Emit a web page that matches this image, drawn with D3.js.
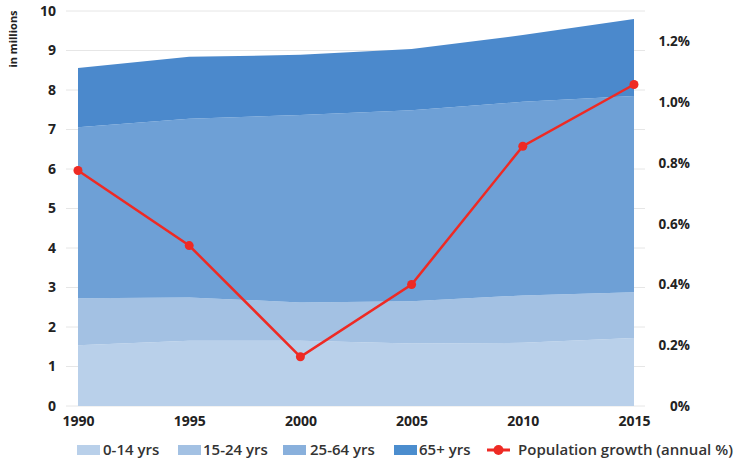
<!DOCTYPE html>
<html>
<head>
<meta charset="utf-8">
<script src="https://cdn.jsdelivr.net/npm/d3@7"></script>
<style>
  body { margin: 0; background: #fff; }
  svg { font-family: "Open Sans", "Noto Sans", sans-serif; }
</style>
</head>
<body>
<svg id="chart" width="734" height="460"></svg>
<script>
// Population by age group (millions) and annual growth (%)
const years = [1990, 1995, 2000, 2005, 2010, 2015];
const age0_14 = [1.54, 1.65, 1.65, 1.58, 1.60, 1.72];
const age15_24 = [1.19, 1.10, 0.97, 1.07, 1.20, 1.16];
const age25_64 = [4.33, 4.52, 4.75, 4.84, 4.90, 4.97];
const age65 = [1.50, 1.57, 1.52, 1.55, 1.69, 1.95];
const growth = [0.775, 0.528, 0.162, 0.40, 0.855, 1.058];
const groupNames = ["0-14 yrs", "15-24 yrs", "25-64 yrs", "65+ yrs"];
const leftTicks = [0, 1, 2, 3, 4, 5, 6, 7, 8, 9, 10];
const rightTicks = [0, 0.2, 0.4, 0.6, 0.8, 1.0, 1.2];

const areaColors = ["#b9d0ea", "#a3c1e3", "#6ea0d6", "#4b89cc"];
const swatchColors = ["#b9d0ea", "#a3c1e3", "#89b0dc", "#4b8dce"];
const red = "#ee2a24";

const svg = d3.select("#chart");
const plotTop = 11, plotBottom = 406;

const x = d3.scaleLinear().domain([1990, 2015]).range([78, 634]);
const y = d3.scaleLinear().domain([0, 10]).range([plotBottom, plotTop]);
const y2 = d3.scaleLinear().domain([0, 1.3]).range([plotBottom, plotTop]);

// gridlines
svg.append("g")
  .selectAll("line")
  .data(leftTicks)
  .join("line")
  .attr("x1", 66).attr("x2", 645)
  .attr("y1", d => y(d)).attr("y2", d => y(d))
  .attr("stroke", "#e6e6e6")
  .attr("stroke-width", 1);

// stacked areas
const rows = years.map((yr, i) => ({
  year: yr, a: age0_14[i], b: age15_24[i], c: age25_64[i], d: age65[i]
}));
const stack = d3.stack().keys(["a", "b", "c", "d"]);
const series = stack(rows);
const area = d3.area()
  .x(d => x(d.data.year))
  .y0(d => y(d[0]))
  .y1(d => y(d[1]));

svg.append("g")
  .selectAll("path")
  .data(series)
  .join("path")
  .attr("d", area)
  .attr("fill", (d, i) => areaColors[i]);

// growth line
const pts = years.map((yr, i) => ({ year: yr, v: growth[i] }));
svg.append("path")
  .datum(pts)
  .attr("fill", "none")
  .attr("stroke", red)
  .attr("stroke-width", 2.5)
  .attr("d", d3.line().x(d => x(d.year)).y(d => y2(d.v)));

svg.append("g")
  .selectAll("circle")
  .data(pts)
  .join("circle")
  .attr("cx", d => x(d.year))
  .attr("cy", d => y2(d.v))
  .attr("r", 4.5)
  .attr("fill", red);

// left axis
const leftAxis = svg.append("g")
  .attr("transform", "translate(56,0)")
  .call(d3.axisLeft(y).tickValues(leftTicks).tickSize(0).tickPadding(0));
leftAxis.select(".domain").remove();
leftAxis.selectAll("text")
  .attr("font-size", 14).attr("font-weight", "bold").attr("fill", "#222")
  .attr("font-family", "'Open Sans', sans-serif");

// right axis
const rightAxis = svg.append("g")
  .attr("transform", "translate(690,0)")
  .call(d3.axisLeft(y2).tickValues(rightTicks).tickSize(0).tickPadding(0)
    .tickFormat(d => d === 0 ? "0%" : d3.format(".1f")(d) + "%"));
rightAxis.select(".domain").remove();
rightAxis.selectAll("text")
  .attr("font-size", 13.5).attr("font-weight", "bold").attr("fill", "#222")
  .attr("font-family", "'Open Sans', sans-serif");

// bottom axis
const bottomAxis = svg.append("g")
  .attr("transform", `translate(0,${plotBottom})`)
  .call(d3.axisBottom(x).tickValues(years).tickSize(0).tickPadding(10).tickFormat(d3.format("d")));
bottomAxis.select(".domain").remove();
bottomAxis.selectAll("text")
  .attr("font-size", 14).attr("font-weight", "bold").attr("fill", "#222")
  .attr("font-family", "'Open Sans', sans-serif");

// y axis title
svg.append("text")
  .attr("transform", "translate(17,39) rotate(-90)")
  .attr("text-anchor", "middle")
  .attr("font-size", 11)
  .attr("font-weight", "bold")
  .attr("fill", "#222")
  .text("in millions");

// legend
const legendY = 450;
const swatchX = [77, 178, 283, 394];
const textX = [103, 203, 310, 419];
const lg = svg.append("g");
groupNames.forEach((name, i) => {
  lg.append("rect")
    .attr("x", swatchX[i]).attr("y", legendY - 5)
    .attr("width", 23).attr("height", 10)
    .attr("fill", swatchColors[i]);
  lg.append("text")
    .attr("x", textX[i]).attr("y", legendY + 5)
    .attr("font-size", 15).attr("font-weight", 600).attr("fill", "#333")
    .text(name);
});
lg.append("line")
  .attr("x1", 487).attr("x2", 510)
  .attr("y1", legendY).attr("y2", legendY)
  .attr("stroke", red).attr("stroke-width", 3);
lg.append("circle")
  .attr("cx", 498.5).attr("cy", legendY).attr("r", 5).attr("fill", red);
lg.append("text")
  .attr("x", 518).attr("y", legendY + 5)
  .attr("font-size", 15).attr("font-weight", 600).attr("fill", "#333")
  .text("Population growth (annual %)");
</script>
</body>
</html>
